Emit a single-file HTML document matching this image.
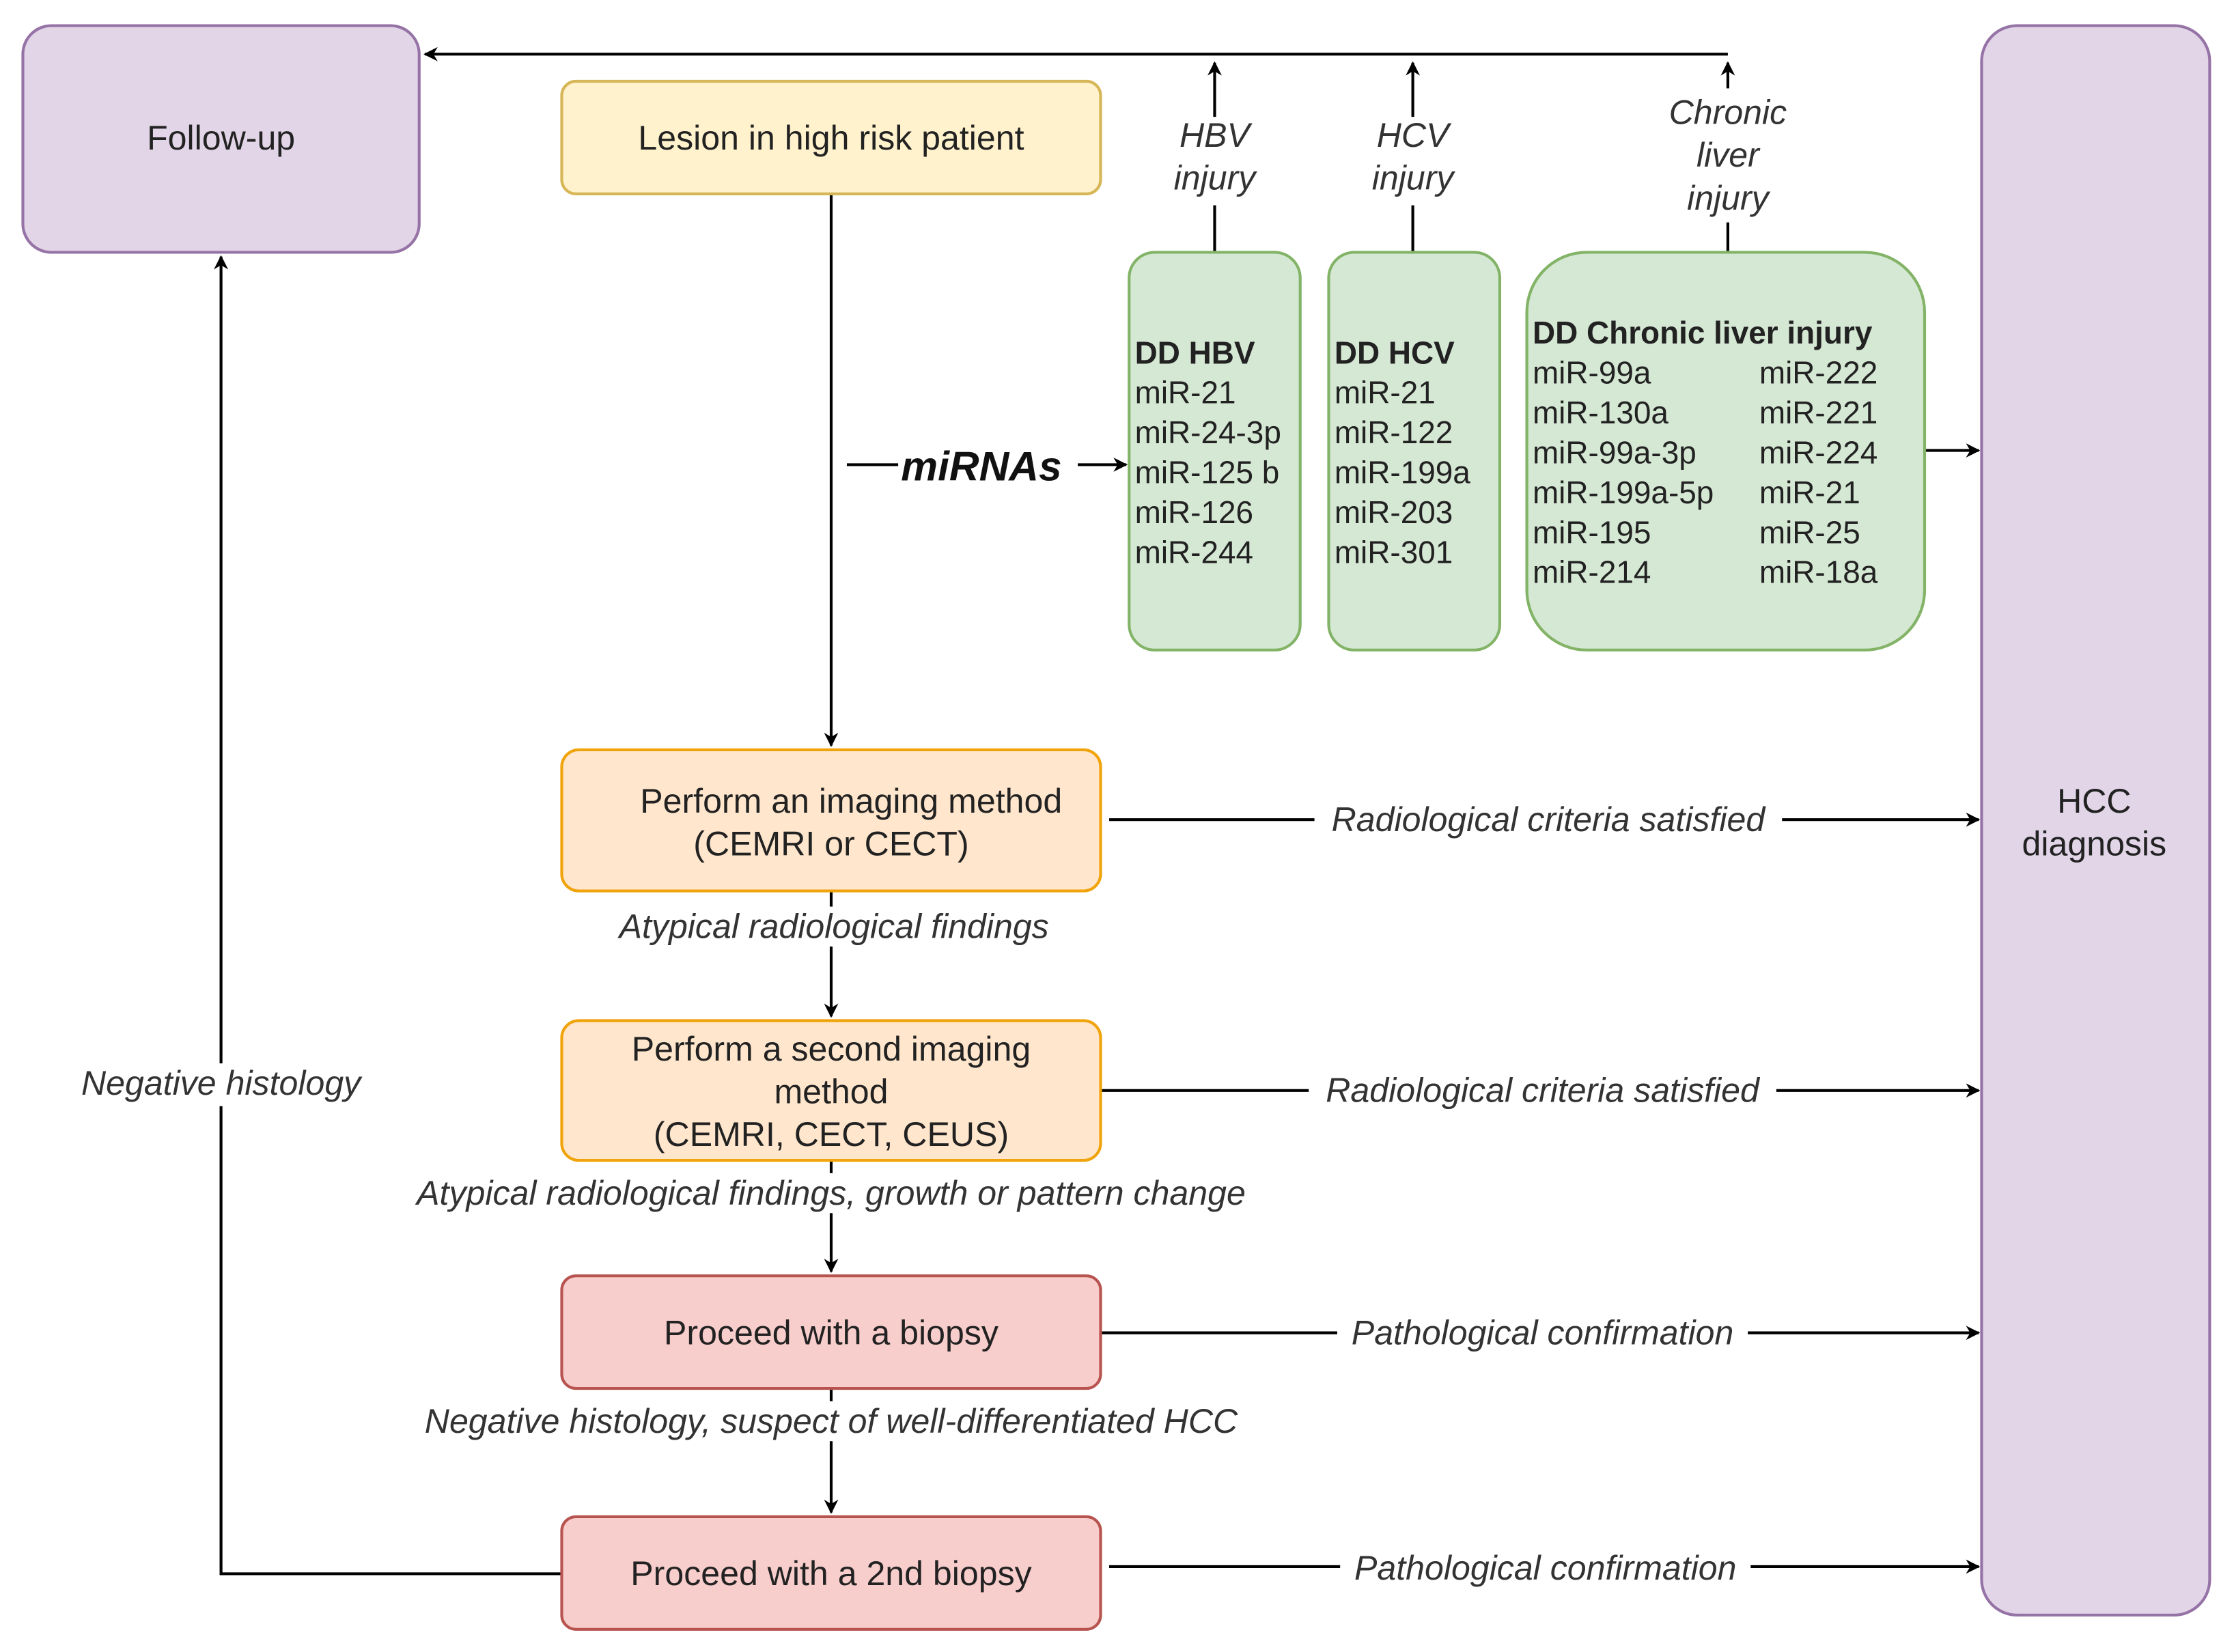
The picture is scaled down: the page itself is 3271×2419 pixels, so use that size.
<!DOCTYPE html>
<html><head><style>html,body{margin:0;padding:0;background:#fff}svg{display:block}</style></head>
<body>
<svg width="3271" height="2419" viewBox="0 0 1567 1158.9" xmlns="http://www.w3.org/2000/svg" font-family="Liberation Sans, Arial, sans-serif">
<defs><marker id="a" markerWidth="10" markerHeight="10" refX="9" refY="5" orient="auto" markerUnits="userSpaceOnUse"><path d="M0,0 L10,5 L0,10 L3,5 z" fill="#000"/></marker></defs>
<g fill="none" stroke="#000" stroke-width="2">
<line x1="1212" y1="38" x2="298" y2="38" marker-end="url(#a)"/>
<line x1="852" y1="177" x2="852" y2="144"/><line x1="852" y1="82" x2="852" y2="44" marker-end="url(#a)"/>
<line x1="991" y1="177" x2="991" y2="144"/><line x1="991" y1="82" x2="991" y2="44" marker-end="url(#a)"/>
<line x1="1212" y1="177" x2="1212" y2="156"/><line x1="1212" y1="62" x2="1212" y2="44" marker-end="url(#a)"/>
<line x1="583" y1="136" x2="583" y2="523" marker-end="url(#a)"/>
<line x1="594" y1="326" x2="630" y2="326"/>
<line x1="756" y1="326" x2="790" y2="326" marker-end="url(#a)"/>
<line x1="1350" y1="316" x2="1388" y2="316" marker-end="url(#a)"/>
<line x1="778" y1="575" x2="922" y2="575"/><line x1="1250" y1="575" x2="1388" y2="575" marker-end="url(#a)"/>
<line x1="772" y1="765" x2="918" y2="765"/><line x1="1246" y1="765" x2="1388" y2="765" marker-end="url(#a)"/>
<line x1="772" y1="935" x2="938" y2="935"/><line x1="1226" y1="935" x2="1388" y2="935" marker-end="url(#a)"/>
<line x1="778" y1="1099" x2="940" y2="1099"/><line x1="1228" y1="1099" x2="1388" y2="1099" marker-end="url(#a)"/>
<line x1="583" y1="625" x2="583" y2="636"/><line x1="583" y1="664" x2="583" y2="713" marker-end="url(#a)"/>
<line x1="583" y1="814" x2="583" y2="823"/><line x1="583" y1="851" x2="583" y2="892" marker-end="url(#a)"/>
<line x1="583" y1="974" x2="583" y2="983"/><line x1="583" y1="1011" x2="583" y2="1061" marker-end="url(#a)"/>
<polyline points="394,1104 155,1104 155,776"/><line x1="155" y1="746" x2="155" y2="180" marker-end="url(#a)"/>
</g>
<rect x="16" y="18" width="278" height="159" rx="20" fill="#e1d5e7" stroke="#9673a6" stroke-width="2"/>
<rect x="1390" y="18" width="160" height="1115" rx="25" fill="#e1d5e7" stroke="#9673a6" stroke-width="2"/>
<rect x="394" y="57" width="378" height="79" rx="10" fill="#fff2cc" stroke="#d6b656" stroke-width="2"/>
<rect x="394" y="526" width="378" height="99" rx="12" fill="#ffe6cc" stroke="#f0a30a" stroke-width="2"/>
<rect x="394" y="716" width="378" height="98" rx="12" fill="#ffe6cc" stroke="#f0a30a" stroke-width="2"/>
<rect x="394" y="895" width="378" height="79" rx="10" fill="#f8cecc" stroke="#b85450" stroke-width="2"/>
<rect x="394" y="1064" width="378" height="79" rx="10" fill="#f8cecc" stroke="#b85450" stroke-width="2"/>
<rect x="792" y="177" width="120" height="279" rx="18" fill="#d5e8d4" stroke="#82b366" stroke-width="2"/>
<rect x="932" y="177" width="120" height="279" rx="18" fill="#d5e8d4" stroke="#82b366" stroke-width="2"/>
<rect x="1071" y="177" width="279" height="279" rx="42" fill="#d5e8d4" stroke="#82b366" stroke-width="2"/>
<g font-size="24" fill="#222" text-anchor="middle">
<text x="155" y="105">Follow-up</text>
<text x="1469" y="570">HCC</text><text x="1469" y="600">diagnosis</text>
<text x="583" y="105">Lesion in high risk patient</text>
<text x="597" y="570">Perform an imaging method</text><text x="583" y="600">(CEMRI or CECT)</text>
<text x="583" y="744">Perform a second imaging</text><text x="583" y="774">method</text><text x="583" y="804">(CEMRI, CECT, CEUS)</text>
<text x="583" y="943">Proceed with a biopsy</text>
<text x="583" y="1112">Proceed with a 2nd biopsy</text>
</g>
<g font-size="24" fill="#333" font-style="italic" text-anchor="middle">
<text x="852" y="103">HBV</text><text x="852" y="133">injury</text>
<text x="991" y="103">HCV</text><text x="991" y="133">injury</text>
<text x="1212" y="87">Chronic</text><text x="1212" y="117">liver</text><text x="1212" y="147">injury</text>
<text x="1086" y="583">Radiological criteria satisfied</text>
<text x="1082" y="773">Radiological criteria satisfied</text>
<text x="1082" y="943">Pathological confirmation</text>
<text x="1084" y="1108">Pathological confirmation</text>
<text x="585" y="658">Atypical radiological findings</text>
<text x="583" y="845">Atypical radiological findings, growth or pattern change</text>
<text x="583" y="1005">Negative histology, suspect of well-differentiated HCC</text>
<text x="155" y="768">Negative histology</text>
</g>
<text x="632" y="337" font-size="29" font-weight="bold" font-style="italic" fill="#111">miRNAs</text>
<g font-size="22" fill="#222">
<text x="796" y="255" font-weight="bold">DD HBV</text>
<text x="796" y="283">miR-21</text><text x="796" y="311">miR-24-3p</text><text x="796" y="339">miR-125 b</text><text x="796" y="367">miR-126</text><text x="796" y="395">miR-244</text>
<text x="936" y="255" font-weight="bold">DD HCV</text>
<text x="936" y="283">miR-21</text><text x="936" y="311">miR-122</text><text x="936" y="339">miR-199a</text><text x="936" y="367">miR-203</text><text x="936" y="395">miR-301</text>
<text x="1075" y="241" font-weight="bold">DD Chronic liver injury</text>
<text x="1075" y="269">miR-99a</text><text x="1075" y="297">miR-130a</text><text x="1075" y="325">miR-99a-3p</text><text x="1075" y="353">miR-199a-5p</text><text x="1075" y="381">miR-195</text><text x="1075" y="409">miR-214</text>
<text x="1234" y="269">miR-222</text><text x="1234" y="297">miR-221</text><text x="1234" y="325">miR-224</text><text x="1234" y="353">miR-21</text><text x="1234" y="381">miR-25</text><text x="1234" y="409">miR-18a</text>
</g>
</svg>
</body></html>
